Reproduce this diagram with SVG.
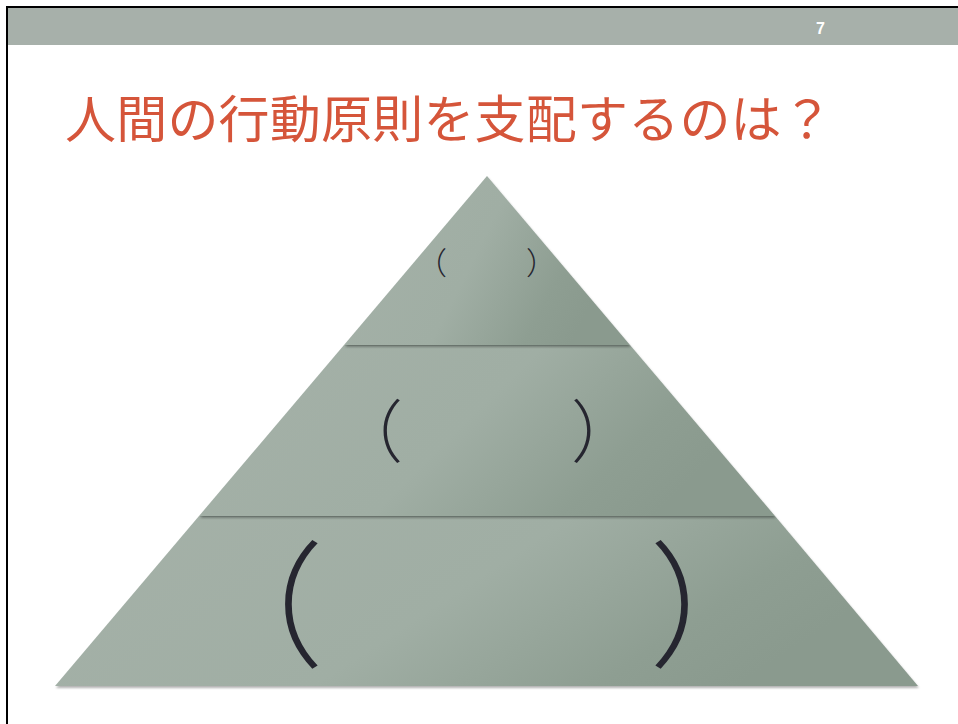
<svg xmlns="http://www.w3.org/2000/svg" width="958" height="724" viewBox="0 0 958 724">
<style>
.title{font-family:"Noto Sans CJK JP","Noto Sans",sans-serif;font-size:51px;letter-spacing:0.2px;fill:#d5553a}
.par{font-family:"Noto Sans CJK JP",sans-serif;font-weight:300;fill:#262630}
.num{font-family:"Liberation Sans",Arial,sans-serif;font-weight:bold;font-size:16px;fill:#ffffff}
.seg{fill:url(#g);filter:url(#sh)}
.div{stroke:#8d9c92;stroke-width:1;opacity:0.7}
</style>
<defs>
<linearGradient id="g" x1="0" y1="0" x2="1" y2="0.3">
<stop offset="0" stop-color="#a5b1a8"/>
<stop offset="0.55" stop-color="#a0aea4"/>
<stop offset="0.85" stop-color="#8e9e92"/>
<stop offset="1" stop-color="#8a9a8e"/>
</linearGradient>
<filter id="sh" x="-5%" y="-5%" width="110%" height="115%">
<feDropShadow dx="1" dy="2" stdDeviation="1.2" flood-color="#000" flood-opacity="0.3"/>
</filter>
</defs>
<rect width="958" height="724" fill="#ffffff"/>
<rect x="8" y="8" width="950" height="37" fill="#a7b0aa"/>
<path d="M7,724 V7 H958" fill="none" stroke="#000" stroke-width="2"/>
<text class="num" x="816" y="34">7</text>
<text class="title" x="65" y="138">人間の行動原則を支配するのは？</text>
<g id="bottom">
<path class="seg" d="M199,516 L775,516 L918,686 L55,686 Z"/>
<line class="div" x1="200" y1="516.5" x2="774" y2="516.5"/>
<text class="par" x="188" y="656" font-size="136" font-weight="400">（</text>
<text class="par" x="649" y="656" font-size="136" font-weight="400">）</text>
</g>
<g id="middle">
<path class="seg" d="M344,345 L630,345 L775,516 L199,516 Z"/>
<line class="div" x1="345" y1="345.5" x2="629" y2="345.5"/>
<text class="par" x="335" y="457" font-size="68">（</text>
<text class="par" x="571" y="457" font-size="68">）</text>
</g>
<g id="top">
<path class="seg" d="M487,176 L630,345 L344,345 Z"/>
<text class="par" x="416" y="274" font-size="31" font-weight="400">（</text>
<text class="par" x="526" y="274" font-size="31" font-weight="400">）</text>
</g>
</svg>
